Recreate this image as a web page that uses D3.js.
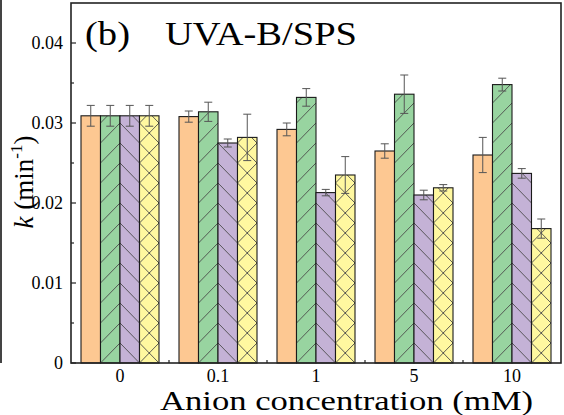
<!DOCTYPE html>
<html>
<head>
<meta charset="utf-8">
<script src="https://cdn.jsdelivr.net/npm/d3@7"></script>
<style>
  html, body { margin: 0; padding: 0; background: #fff; }
  svg { display: block; }
  text { font-family: "Liberation Serif", "Times New Roman", serif; fill: #000; }
</style>
</head>
<body>
<svg id="chart" width="564" height="415"></svg>
<script>
// Anion concentrations (mM) on the category axis
const categories = ["0", "0.1", "1", "5", "10"];

// Rate constants k (min^-1) for the four anion series
const seriesKeys = ["a", "b", "c", "d"];
const valuesA = [0.0309, 0.0308, 0.0292, 0.0265, 0.0260];
const valuesB = [0.0309, 0.0314, 0.0332, 0.0336, 0.0348];
const valuesC = [0.0309, 0.0275, 0.0213, 0.0210, 0.0237];
const valuesD = [0.0309, 0.0282, 0.0235, 0.0219, 0.0168];

// Standard deviations
const errorsA = [0.0013, 0.0007, 0.0008, 0.0009, 0.0022];
const errorsB = [0.0013, 0.0012, 0.0011, 0.0024, 0.0008];
const errorsC = [0.0013, 0.0005, 0.0004, 0.0006, 0.0006];
const errorsD = [0.0013, 0.0029, 0.0023, 0.0004, 0.0012];

// Y axis ticks
const yTicks = [0, 0.01, 0.02, 0.03, 0.04];
const yTickLabels = ["0", "0.01", "0.02", "0.03", "0.04"];
const yMinorTicks = [0.005, 0.015, 0.025, 0.035];

const allValues = [valuesA, valuesB, valuesC, valuesD];
const allErrors = [errorsA, errorsB, errorsC, errorsD];
const fills = ["#FDC892", "#98D4A0", "#C4B2D6", "#FFF8A0"];
const hatch = ["none", "fwd", "back", "cross"];

const svg = d3.select("#chart");
const plotLeft = 71, plotRight = 561, plotTop = 3, plotBottom = 363;

const y = d3.scaleLinear().domain([0, 0.045]).range([plotBottom, plotTop]);
const x0 = d3.scaleBand().domain(categories).range([plotLeft, plotRight]).paddingInner(0).paddingOuter(0);
const bandPad = 10;
const x1 = d3.scaleBand().domain(seriesKeys).range([bandPad, x0.bandwidth() - bandPad]).padding(0);

const rows = [];
categories.forEach((c, gi) => {
  seriesKeys.forEach((k, si) => {
    rows.push({ cat: c, gi, key: k, si, v: allValues[si][gi], e: allErrors[si][gi] });
  });
});

// Hatch patterns anchored to each bar's left edge and the baseline
const defs = svg.append("defs");
const period = 20;
rows.forEach(d => {
  if (hatch[d.si] === "none") return;
  const bx = x0(d.cat) + x1(d.key);
  const w = x1.bandwidth();
  const p = defs.append("pattern")
    .attr("id", `h-${d.si}-${d.gi}`)
    .attr("patternUnits", "userSpaceOnUse")
    .attr("x", bx).attr("y", plotBottom)
    .attr("width", w).attr("height", period);
  p.append("rect").attr("width", w).attr("height", period).attr("fill", fills[d.si]);
  const ln = (xa, ya, xb, yb) => p.append("line")
    .attr("x1", xa).attr("y1", ya).attr("x2", xb).attr("y2", yb)
    .attr("stroke", "#4a4a4a").attr("stroke-width", 0.9);
  if (hatch[d.si] === "fwd" || hatch[d.si] === "cross") {
    ln(0, period, w, 0);
  }
  if (hatch[d.si] === "back" || hatch[d.si] === "cross") {
    ln(0, 0, w, period);
  }
});

// Inward ticks
const tickG = svg.append("g").attr("stroke", "#222").attr("stroke-width", 1.2);
yTicks.forEach(t => tickG.append("line").attr("x1", plotLeft).attr("x2", plotLeft + 5).attr("y1", y(t)).attr("y2", y(t)));
yMinorTicks.forEach(t => tickG.append("line").attr("x1", plotLeft).attr("x2", plotLeft + 3).attr("y1", y(t)).attr("y2", y(t)));
categories.forEach(c => {
  const cx = x0(c) + x0.bandwidth() / 2;
  tickG.append("line").attr("x1", cx).attr("x2", cx).attr("y1", plotBottom).attr("y2", plotBottom - 5);
});
categories.slice(1).forEach(c => {
  const bx = x0(c);
  tickG.append("line").attr("x1", bx).attr("x2", bx).attr("y1", plotBottom).attr("y2", plotBottom - 3);
});

// Bars
svg.append("g").selectAll("rect").data(rows).join("rect")
  .attr("x", d => x0(d.cat) + x1(d.key))
  .attr("y", d => y(d.v))
  .attr("width", x1.bandwidth())
  .attr("height", d => y(0) - y(d.v))
  .attr("fill", d => hatch[d.si] === "none" ? fills[d.si] : `url(#h-${d.si}-${d.gi})`)
  .attr("stroke", "#1a1a1a")
  .attr("stroke-width", 1.1);

// Error bars
const eg = svg.append("g").attr("stroke", "#555").attr("stroke-width", 1);
rows.forEach(d => {
  const cx = x0(d.cat) + x1(d.key) + x1.bandwidth() / 2;
  const yt = y(d.v + d.e), yb = y(d.v - d.e);
  eg.append("line").attr("x1", cx).attr("x2", cx).attr("y1", yt).attr("y2", yb);
  eg.append("line").attr("x1", cx - 4).attr("x2", cx + 4).attr("y1", yt).attr("y2", yt);
  eg.append("line").attr("x1", cx - 4).attr("x2", cx + 4).attr("y1", yb).attr("y2", yb);
});

// Frame
svg.append("rect").attr("x", plotLeft).attr("y", plotTop)
  .attr("width", plotRight - plotLeft).attr("height", plotBottom - plotTop)
  .attr("fill", "none").attr("stroke", "#222").attr("stroke-width", 1.6);

// Edge of the neighbouring panel
svg.append("line").attr("x1", 1).attr("x2", 1).attr("y1", 0).attr("y2", plotBottom)
  .attr("stroke", "#444").attr("stroke-width", 2);

// Tick labels
svg.append("g").selectAll("text").data(yTicks).join("text")
  .attr("x", plotLeft - 8).attr("y", d => y(d)).attr("dy", "0.35em")
  .attr("text-anchor", "end").attr("font-size", 18)
  .text((d, i) => yTickLabels[i]);

svg.append("g").selectAll("text").data(categories).join("text")
  .attr("x", d => x0(d) + x0.bandwidth() / 2).attr("y", 382)
  .attr("text-anchor", "middle").attr("font-size", 18)
  .text(d => d);

// Axis titles
svg.append("text").attr("x", 160).attr("y", 410).attr("font-size", 26.5)
  .attr("textLength", 373).attr("lengthAdjust", "spacingAndGlyphs")
  .text("Anion concentration (mM)");

const yTitle = svg.append("text").attr("transform", "translate(33,182) rotate(-90)")
  .attr("text-anchor", "middle").attr("font-size", 27);
yTitle.append("tspan").attr("font-style", "italic").text("k");
yTitle.append("tspan").text(" (min");
yTitle.append("tspan").attr("font-size", 17).attr("dy", -11).text("-1");
yTitle.append("tspan").attr("dy", 11).text(")");

// Panel title
svg.append("text").attr("x", 85).attr("y", 45).attr("font-size", 34)
  .attr("textLength", 45).attr("lengthAdjust", "spacingAndGlyphs").text("(b)");
svg.append("text").attr("x", 165).attr("y", 45).attr("font-size", 34)
  .attr("textLength", 192).attr("lengthAdjust", "spacingAndGlyphs").text("UVA-B/SPS");
</script>
</body>
</html>
